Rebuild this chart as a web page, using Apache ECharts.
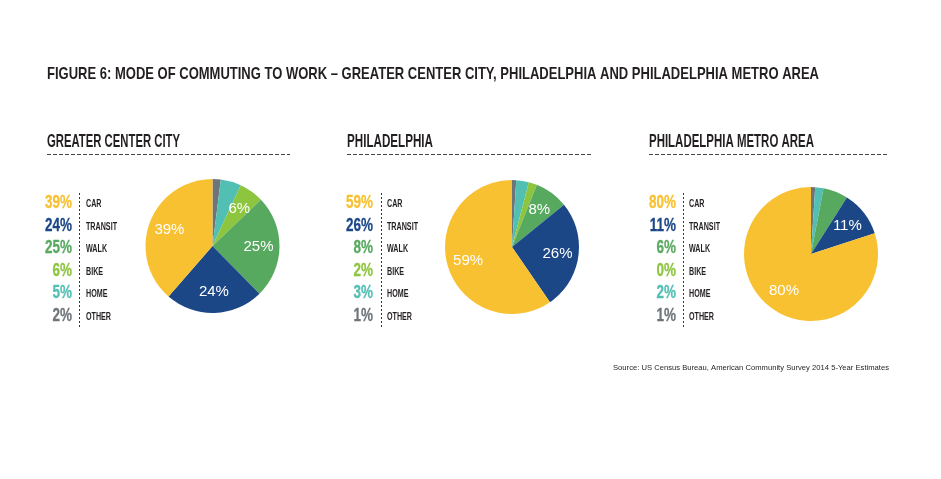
<!DOCTYPE html>
<html>
<head>
<meta charset="utf-8">
<script src="https://cdn.jsdelivr.net/npm/echarts@6/dist/echarts.min.js"></script>
<style>html,body{margin:0;padding:0;background:#fff;}#c{width:941px;height:479px;}</style>
</head>
<body>
<div id="c"></div>
<script>
// ---- data ----
var categories = ['CAR', 'TRANSIT', 'WALK', 'BIKE', 'HOME', 'OTHER'];
var greaterCenterCity = [39, 24, 25, 6, 5, 2];
var philadelphia = [59, 26, 8, 2, 3, 1];
var metroArea = [80, 11, 6, 0, 2, 1];
var panelTitles = ['GREATER CENTER CITY', 'PHILADELPHIA', 'PHILADELPHIA METRO AREA'];
var mainTitle = 'FIGURE 6: MODE OF COMMUTING TO WORK \u2013 GREATER CENTER CITY, PHILADELPHIA AND PHILADELPHIA METRO AREA';
var sourceText = 'Source: US Census Bureau, American Community Survey 2014 5-Year Estimates';

// ---- styles / layout ----
var colors = { CAR: '#F8C132', TRANSIT: '#1B4787', WALK: '#58A960', BIKE: '#8DC53F', HOME: '#52BFB3', OTHER: '#6E757A' };
var FONT = '"Liberation Sans Narrow", "Liberation Sans", "Arial Narrow", sans-serif';
var panels = [
  { data: greaterCenterCity, center: [212.5, 246], titleX: 47, titleW: 133, lineEnd: 290, pctRight: 72, sepX: 79, nameX: 86 },
  { data: philadelphia, center: [512, 247], titleX: 347, titleW: 86, lineEnd: 591, pctRight: 373, sepX: 381, nameX: 387 },
  { data: metroArea, center: [811, 254], titleX: 649, titleW: 165, lineEnd: 889, pctRight: 676, sepX: 683, nameX: 689 }
];
var R = 67;

var mctx = document.createElement('canvas').getContext('2d');
function fitScale(text, font, target) {
  mctx.font = font;
  var w = mctx.measureText(text).width;
  return w > 0 ? target / w : 1;
}

var graphics = [];
var tf = 'bold 17px ' + FONT;
graphics.push({ type: 'text', x: 47, y: 74, scaleX: fitScale(mainTitle, tf, 772), silent: true,
  style: { text: mainTitle, font: tf, fill: '#231F20', textVerticalAlign: 'middle', textAlign: 'left' } });
var sf = '8px ' + FONT;
graphics.push({ type: 'text', x: 889, y: 368, scaleX: fitScale(sourceText, sf, 276), silent: true,
  style: { text: sourceText, font: sf, fill: '#231F20', textVerticalAlign: 'middle', textAlign: 'right' } });

var pf = 'bold 18px ' + FONT;
var pctScale = fitScale('39%', pf, 27);
var nf = 'bold 11px ' + FONT;
var nameScale = fitScale('TRANSIT', nf, 31);

var series = [];
panels.forEach(function (p, pi) {
  var hf = 'bold 18px ' + FONT;
  graphics.push({ type: 'text', x: p.titleX, y: 142, scaleX: fitScale(panelTitles[pi], hf, p.titleW), silent: true,
    style: { text: panelTitles[pi], font: hf, fill: '#231F20', textVerticalAlign: 'middle', textAlign: 'left' } });
  graphics.push({ type: 'line', silent: true, shape: { x1: p.titleX, y1: 154.5, x2: p.lineEnd, y2: 154.5 },
    style: { stroke: '#444', lineWidth: 1, lineDash: [4, 2] } });
  graphics.push({ type: 'line', silent: true, shape: { x1: p.sepX + 0.5, y1: 193, x2: p.sepX + 0.5, y2: 328 },
    style: { stroke: '#333', lineWidth: 1, lineDash: [2, 2] } });
  categories.forEach(function (c, i) {
    var y = 203 + i * 22.6;
    graphics.push({ type: 'text', x: p.pctRight, y: y, scaleX: pctScale, silent: true,
      style: { text: p.data[i] + '%', font: pf, fill: colors[c], stroke: colors[c], lineWidth: 0.3,
        textVerticalAlign: 'middle', textAlign: 'right' } });
    graphics.push({ type: 'text', x: p.nameX, y: y + 1, scaleX: nameScale, silent: true,
      style: { text: c, font: nf, fill: '#231F20', textVerticalAlign: 'middle', textAlign: 'left' } });
  });

  // clockwise from 12 o'clock: OTHER, HOME, BIKE, WALK, TRANSIT, CAR
  var pieData = categories.map(function (c, i) {
    return { name: c, value: p.data[i], itemStyle: { color: colors[c] } };
  }).reverse();
  series.push({
    type: 'pie', center: p.center, radius: [0, R], startAngle: 90, clockwise: true,
    silent: true, animation: false, label: { show: false }, labelLine: { show: false },
    data: pieData
  });
  series.push({
    type: 'pie', center: p.center, radius: [40, 46], startAngle: 90, clockwise: true,
    silent: true, animation: false, z: 5,
    itemStyle: { color: 'rgba(0,0,0,0)' },
    label: { show: true, position: 'inside', color: '#fff', fontFamily: FONT, fontSize: 15,
      formatter: function (q) { return q.value >= 6 ? q.value + '%' : ''; } },
    labelLine: { show: false },
    data: pieData.map(function (d) { return { name: d.name, value: d.value, itemStyle: { color: 'rgba(0,0,0,0)' } }; })
  });
});

var chart = echarts.init(document.getElementById('c'));
chart.setOption({
  backgroundColor: '#fff',
  animation: false,
  series: series,
  graphic: { elements: graphics }
});
</script>
</body>
</html>
